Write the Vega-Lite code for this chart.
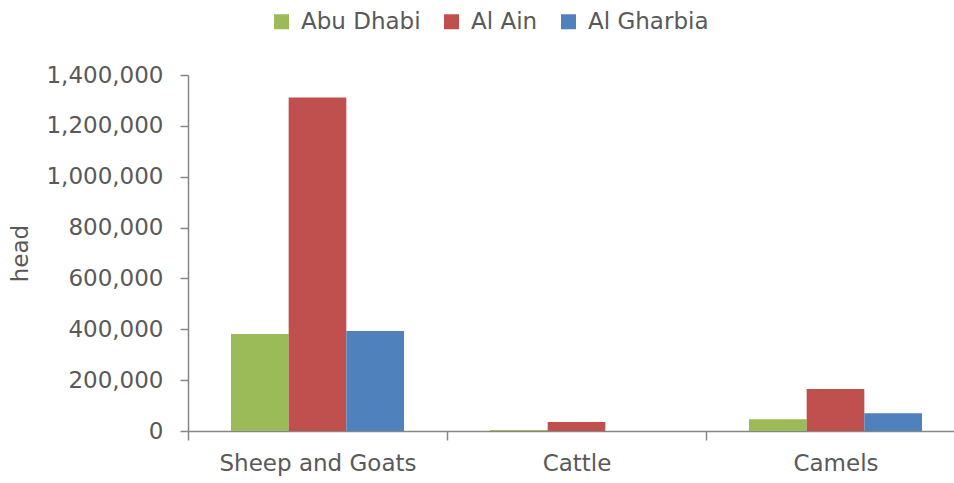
{
  "$schema": "https://vega.github.io/schema/vega-lite/v6.json",
  "width": 766,
  "height": 356,
  "autosize": "none",
  "padding": {"left": 188, "top": 75, "right": 0, "bottom": 52},
  "config": {
    "view": {"stroke": null},
    "font": "DejaVu Sans",
    "axis": {
      "grid": false,
      "labelColor": "#595959",
      "labelFontSize": 23,
      "labelLimit": 0,
      "titleColor": "#595959",
      "titleFontSize": 23,
      "titleFontWeight": "normal",
      "domainColor": "#868686",
      "tickColor": "#868686",
      "domainWidth": 1.5,
      "tickWidth": 1.5,
      "tickSize": 8
    }
  },
  "data": {
    "values": [
      {"category": "Sheep and Goats", "region": "Abu Dhabi", "value": 381000},
      {"category": "Sheep and Goats", "region": "Al Ain", "value": 1312000},
      {"category": "Sheep and Goats", "region": "Al Gharbia", "value": 393000},
      {"category": "Cattle", "region": "Abu Dhabi", "value": 4000},
      {"category": "Cattle", "region": "Al Ain", "value": 35000},
      {"category": "Cattle", "region": "Al Gharbia", "value": 300},
      {"category": "Camels", "region": "Abu Dhabi", "value": 46000},
      {"category": "Camels", "region": "Al Ain", "value": 165000},
      {"category": "Camels", "region": "Al Gharbia", "value": 70000}
    ]
  },
  "mark": {"type": "bar"},
  "encoding": {
    "x": {
      "field": "category",
      "type": "nominal",
      "sort": ["Sheep and Goats", "Cattle", "Camels"],
      "scale": {"range": [0, 777], "paddingInner": 0, "paddingOuter": 0},
      "axis": {
        "title": null,
        "labelAngle": 0,
        "tickBand": "extent",
        "labelPadding": 12,
        "tickSize": 9
      }
    },
    "xOffset": {
      "field": "region",
      "type": "nominal",
      "sort": ["Abu Dhabi", "Al Ain", "Al Gharbia"],
      "scale": {"paddingInner": 0, "paddingOuter": 0.745}
    },
    "y": {
      "field": "value",
      "type": "quantitative",
      "scale": {"domain": [0, 1400000], "nice": false},
      "axis": {
        "title": "head",
        "values": [0, 200000, 400000, 600000, 800000, 1000000, 1200000, 1400000],
        "format": ",.0f",
        "labelPadding": 17,
        "titlePadding": 13
      }
    },
    "color": {
      "field": "region",
      "type": "nominal",
      "scale": {
        "domain": ["Abu Dhabi", "Al Ain", "Al Gharbia"],
        "range": ["#9BBB59", "#C0504D", "#4F81BD"]
      },
      "legend": {
        "orient": "none",
        "legendX": 82,
        "legendY": -65,
        "direction": "horizontal",
        "title": null,
        "symbolType": "square",
        "symbolSize": 225,
        "symbolStrokeWidth": 0,
        "labelFontSize": 23,
        "labelColor": "#595959",
        "labelOffset": 8,
        "columnPadding": 19
      }
    }
  }
}
